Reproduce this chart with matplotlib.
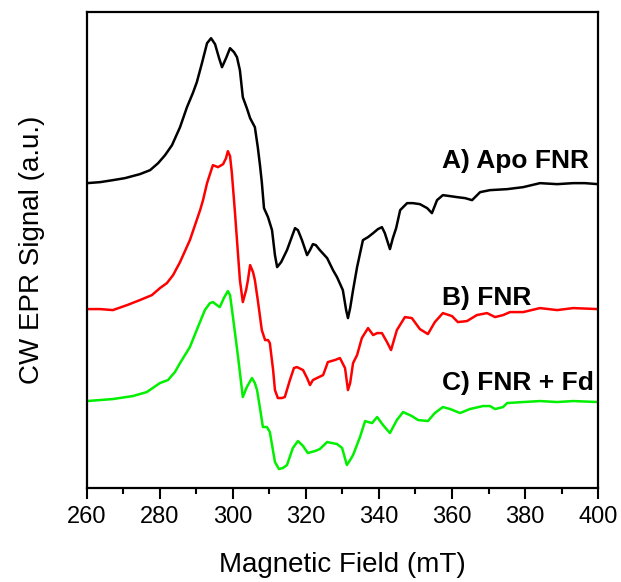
import numpy as np
import matplotlib
matplotlib.use("Agg")
from matplotlib import pyplot as plt
from matplotlib.ticker import MultipleLocator

plt.rcParams["font.family"] = ["Liberation Sans", "DejaVu Sans"]

# magnetic field (mT) and signal (a.u., relative to each trace's baseline)
field_a = [260.0, 263.6, 267.1, 270.4, 274.5, 277.3, 279.5, 281.4, 283.3, 285.5,
           287.4, 289.0, 290.1, 291.5, 292.9, 294.0, 295.1, 296.2, 297.0, 298.1,
           299.2, 300.3, 301.1, 301.9, 302.7, 303.8, 304.7, 306.0, 306.8, 307.4,
           307.9, 308.5, 309.6, 310.7, 311.5, 312.1, 313.2, 314.8, 317.0, 317.8,
           318.9, 320.3, 321.1, 321.9, 322.7, 323.8, 325.8, 327.4, 328.5, 330.1,
           331.0, 331.5, 332.1, 332.9, 334.0, 335.6, 337.0, 338.4, 339.7, 340.8,
           341.6, 343.0, 343.8, 344.7, 345.8, 347.7, 349.3, 351.2, 353.2, 354.5,
           355.9, 357.5, 359.5, 361.4, 363.6, 365.5, 367.7, 370.4, 375.1, 379.5,
           384.1, 388.8, 393.2, 396.4, 400.0]
apo_fnr = [0.0, 0.1, 0.3, 0.5, 0.9, 1.3, 2.0, 2.8, 3.8, 5.6,
           7.6, 9.0, 10.1, 12.0, 14.0, 14.5, 13.9, 12.5, 11.6, 12.5,
           13.5, 13.1, 12.6, 11.3, 8.6, 7.5, 6.5, 5.6, 3.6, 1.8,
           0.1, -2.5, -3.4, -4.7, -7.2, -8.4, -7.9, -6.7, -4.5, -4.7,
           -5.7, -7.2, -6.7, -6.1, -6.2, -6.7, -7.5, -8.7, -9.4, -10.7,
           -12.7, -13.5, -12.5, -10.7, -8.4, -5.7, -5.4, -5.0, -4.6, -4.4,
           -5.0, -6.6, -5.5, -4.5, -2.7, -2.0, -2.0, -2.1, -2.5, -3.0,
           -1.7, -1.2, -1.3, -1.4, -1.5, -1.7, -0.9, -0.7, -0.6, -0.4,
           0.0, -0.1, 0.0, 0.0, -0.1]

field_b = [260.0, 263.6, 267.1, 271.0, 274.5, 277.8, 280.0, 281.9, 283.6, 285.5,
           288.2, 289.6, 291.0, 291.8, 292.9, 294.5, 295.9, 297.3, 298.1, 298.6,
           299.2, 299.7, 300.5, 301.1, 301.9, 302.7, 303.6, 304.1, 304.7, 305.5,
           306.0, 306.8, 307.9, 308.8, 309.6, 310.1, 311.0, 311.5, 312.3, 313.4,
           314.2, 315.6, 316.7, 317.5, 319.2, 320.3, 321.1, 321.9, 323.0, 324.7,
           326.0, 327.9, 329.3, 330.7, 331.5, 332.1, 332.9, 334.0, 335.3, 337.0,
           338.4, 339.5, 340.8, 342.2, 343.3, 344.1, 344.9, 347.1, 349.0, 351.2,
           353.4, 355.3, 357.5, 360.0, 361.6, 364.1, 366.8, 369.6, 371.8, 374.0,
           375.9, 379.5, 384.1, 388.8, 393.2, 400.0]
fnr = [0.0, 0.0, -0.1, 0.4, 0.9, 1.4, 2.1, 2.6, 3.4, 4.7,
       6.9, 8.4, 9.9, 10.9, 12.6, 14.4, 14.2, 14.5, 15.1, 15.8,
       15.3, 13.6, 9.9, 6.9, 2.9, 0.7, 1.9, 2.9, 4.4, 3.7,
       2.9, 0.9, -2.1, -3.1, -3.1, -3.4, -6.1, -8.1, -8.9, -8.9,
       -8.8, -7.1, -5.9, -5.8, -6.1, -6.9, -7.6, -7.1, -6.9, -6.6,
       -5.3, -5.1, -4.9, -5.9, -8.1, -7.4, -5.4, -4.6, -2.9, -1.9,
       -2.6, -2.4, -2.4, -3.3, -4.1, -3.1, -2.1, -0.8, -0.9, -2.0,
       -2.5, -1.3, -0.4, -0.7, -1.3, -1.2, -0.6, -0.4, -0.8, -0.6,
       -0.3, -0.3, 0.1, -0.1, 0.1, 0.0]

field_c = [260.0, 263.6, 267.1, 272.6, 276.4, 280.0, 282.2, 284.1, 285.5, 288.2,
           290.4, 292.3, 293.7, 294.5, 295.6, 296.4, 297.5, 298.6, 299.2, 300.0,
           301.4, 302.7, 303.8, 305.2, 306.0, 306.6, 307.4, 308.2, 309.3, 310.1,
           311.5, 312.6, 313.7, 314.8, 316.4, 317.8, 319.2, 320.5, 322.5, 323.8,
           325.8, 327.1, 328.5, 329.9, 331.2, 332.1, 332.9, 334.8, 336.2, 337.0,
           338.1, 339.5, 341.1, 343.0, 344.9, 346.6, 349.0, 350.7, 353.4, 355.3,
           357.5, 359.5, 362.2, 364.9, 368.5, 370.4, 371.8, 374.0, 375.1, 379.5,
           384.1, 388.8, 393.2, 400.0]
fnr_fd = [0.0, 0.1, 0.2, 0.5, 0.9, 1.8, 2.1, 2.9, 3.8, 5.4,
          7.4, 9.1, 9.8, 9.9, 9.6, 9.4, 10.3, 11.0, 10.6, 8.4,
          4.4, 0.4, 1.4, 2.3, 1.8, 1.1, -0.7, -2.6, -2.6, -3.1,
          -6.1, -6.8, -6.7, -6.4, -4.7, -4.0, -4.5, -5.2, -5.0, -4.8,
          -4.1, -4.2, -4.3, -4.7, -6.4, -5.9, -5.4, -3.6, -2.0, -2.1,
          -2.2, -1.6, -2.4, -3.2, -1.9, -1.1, -1.5, -1.9, -2.0, -1.2,
          -0.6, -0.8, -1.2, -0.8, -0.5, -0.5, -0.8, -0.6, -0.2, -0.1,
          0.0, -0.1, 0.0, -0.1]

labels = ["A) Apo FNR", "B) FNR", "C) FNR + Fd"]
offsets = [30.5, 17.9, 8.7]
label_y = [32.0, 18.3, 9.8]
colors = ["black", "#ff0000", "#00f000"]

fig = plt.figure(figsize=(6.21, 5.82), dpi=100)
ax = fig.add_axes([0.140, 0.1615, 0.823, 0.8175])

series = [(field_a, apo_fnr), (field_b, fnr), (field_c, fnr_fd)]
for (x, y), off, col in zip(series, offsets, colors):
    ax.plot(x, np.array(y) + off, color=col, lw=1.8, solid_joinstyle="round")

for lab, ly in zip(labels, label_y):
    ax.text(357.3, ly, lab, fontsize=19, fontweight="bold", ha="left", va="baseline")

ax.set_xlim(260, 400)
ax.set_ylim(0, 47.6)
ax.xaxis.set_major_locator(MultipleLocator(20))
ax.xaxis.set_minor_locator(MultipleLocator(10))
ax.tick_params(axis="x", which="major", direction="out", length=8, width=1.5,
               labelsize=17, pad=5)
ax.tick_params(axis="x", which="minor", direction="out", length=4, width=1.5)
ax.set_yticks([])
for sp in ax.spines.values():
    sp.set_linewidth(1.6)

ax.set_xlabel("Magnetic Field (mT)", fontsize=20, labelpad=17)
ax.set_ylabel("CW EPR Signal (a.u.)", fontsize=20, labelpad=30)

fig.savefig("out.png", dpi=100)
